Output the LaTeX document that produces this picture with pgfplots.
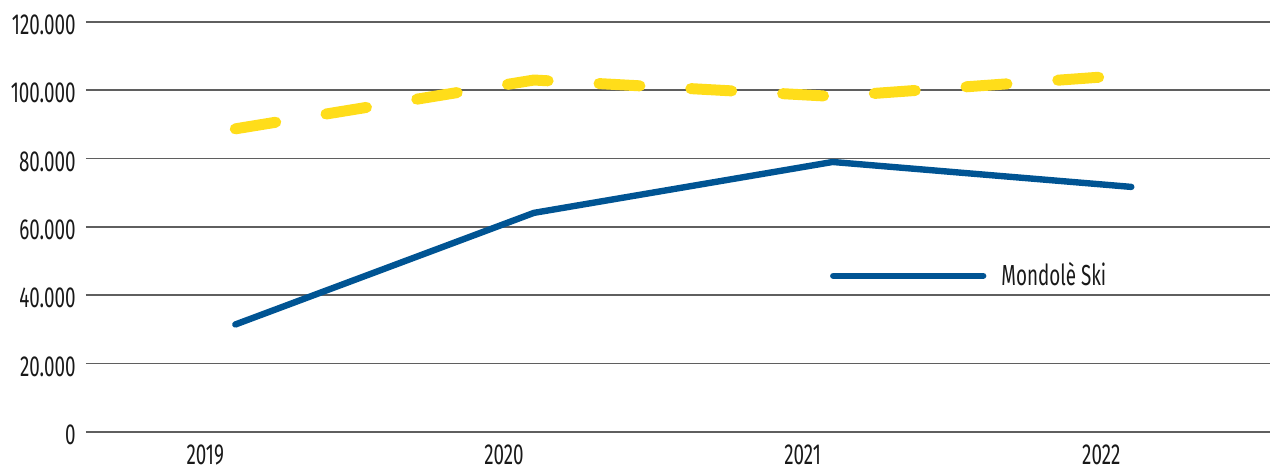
\documentclass[border=0pt]{standalone}
\usepackage{fontspec}
\setmainfont[FakeStretch=0.65]{Fira Sans}
\usepackage{pgfplots}
\pgfplotsset{compat=1.18}
\definecolor{bluel}{RGB}{0,84,147}
\definecolor{yell}{RGB}{255,221,26}
\definecolor{gridc}{RGB}{95,95,95}
\begin{document}
\begin{tikzpicture}
\begin{axis}[
 width=592.5pt, height=205pt, scale only axis,
 xmin=-0.5, xmax=3.465, ymin=0, ymax=120000,
 scaled y ticks=false,
 xtick={0,1,2,3}, xticklabels={2019,2020,2021,2022},
 ytick={0,20000,40000,60000,80000,100000,120000},
 yticklabels={0,20.000,40.000,60.000,80.000,100.000,120.000},
 ymajorgrids, grid style={gridc, line width=0.8pt},
 axis line style={draw=none},
 major tick length=0pt,
 tick label style={font=\fontsize{14.5}{16}\selectfont, text=black!90},
 yticklabel style={anchor=east, inner sep=0pt, xshift=-5pt, yshift=-1.5pt},
 xticklabel style={anchor=north, inner sep=0pt, xshift=-15pt, yshift=-6.5pt},
 clip=false,
 legend style={at={(axis cs:1.99,45650)}, anchor=west, draw=none, fill=none, inner sep=0pt, nodes={inner sep=0pt}, column sep=7.5pt, font=\fontsize{14.5}{16}\selectfont, text=black!90},
 legend cell align=left,
 legend image code/.code={\draw[#1, line cap=round] (0pt,0pt) -- (75pt,0pt);},
]
\addplot[yell, line width=5.5pt, line cap=round, line join=round, dash pattern=on 20.5pt off 25.5pt, forget plot] coordinates {(0,88700)(1,103000)(2,98200)(3,104500)};
\addplot[bluel, line width=3.2pt, line cap=round, line join=round] coordinates {(0,31400)(1,64100)(2,79000)(3,71700)};
\legend{Mondolè Ski}
\end{axis}
\path (current axis.south west) +(-43pt,-19pt) rectangle ([yshift=11pt]current axis.north east);
\end{tikzpicture}
\end{document}
